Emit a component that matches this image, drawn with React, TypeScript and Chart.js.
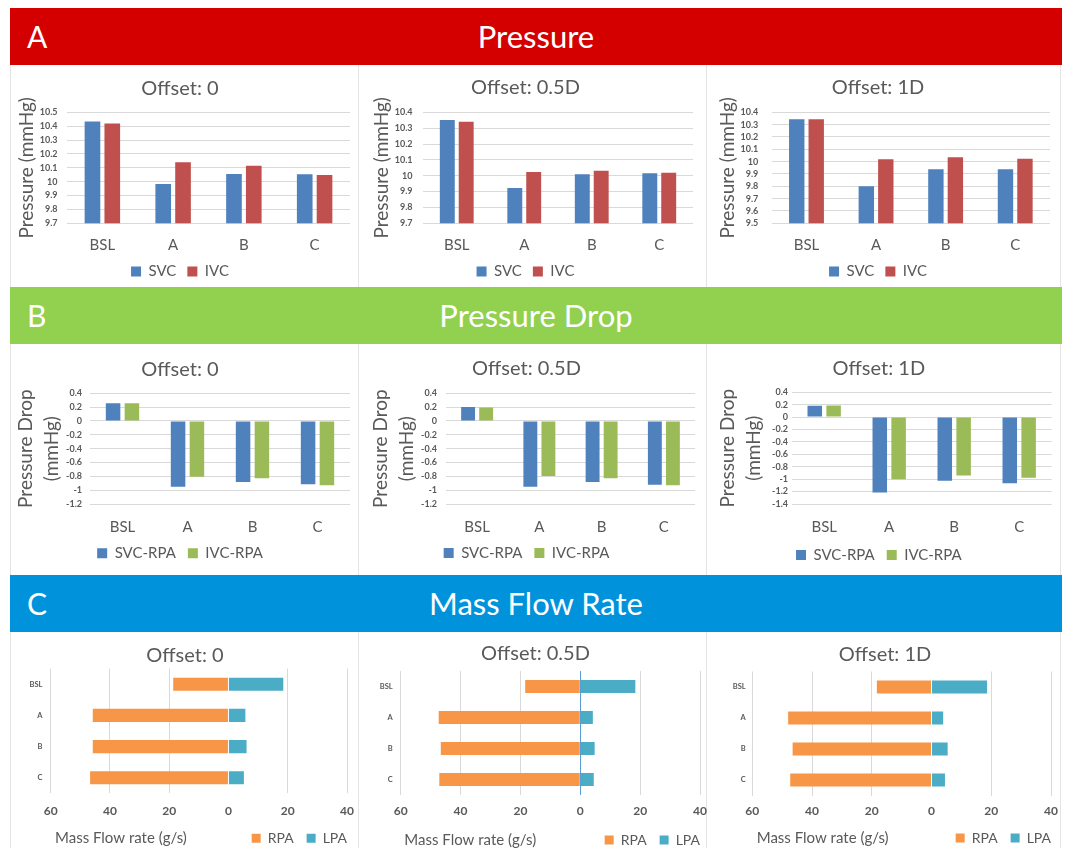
import React, { useEffect, useRef } from "react";
import { Chart, registerables } from "chart.js";

Chart.register(...registerables);

const FONT = "Lato, 'Open Sans', 'DejaVu Sans', sans-serif";
const TEXT = "#595959";
const GRID = "#d9d9d9";

// ---------- data ----------
const categories = ["BSL", "A", "B", "C"];
const offsetLabels = ["Offset: 0", "Offset: 0.5D", "Offset: 1D"];

// A: Pressure (mmHg)
const svcPressure0 = [10.433, 9.983, 10.055, 10.053];
const ivcPressure0 = [10.42, 10.14, 10.115, 10.048];
const svcPressure05 = [10.352, 9.923, 10.009, 10.016];
const ivcPressure05 = [10.341, 10.024, 10.032, 10.018];
const svcPressure1 = [10.343, 9.8, 9.938, 9.938];
const ivcPressure1 = [10.343, 10.019, 10.035, 10.024];
const pressureAxisMin = [9.7, 9.7, 9.5];
const pressureAxisMax = [10.5, 10.4, 10.4];
const pressureAxisStep = 0.1;

// B: Pressure drop (mmHg)
const svcRpaDrop0 = [0.255, -0.949, -0.882, -0.916];
const ivcRpaDrop0 = [0.255, -0.805, -0.829, -0.93];
const svcRpaDrop05 = [0.202, -0.949, -0.882, -0.92];
const ivcRpaDrop05 = [0.193, -0.795, -0.829, -0.93];
const svcRpaDrop1 = [0.183, -1.215, -1.027, -1.065];
const ivcRpaDrop1 = [0.188, -1.0, -0.941, -0.978];
const dropAxisMin = [-1.2, -1.2, -1.4];
const dropAxisMax = [0.4, 0.4, 0.4];
const dropAxisStep = 0.2;

// C: Mass flow rate (g/s) — RPA plotted to the left
const rpaFlow0 = [18.65, 45.8, 45.8, 46.7];
const lpaFlow0 = [18.5, 5.7, 6.1, 5.2];
const rpaFlow05 = [18.4, 47.3, 46.6, 47.1];
const lpaFlow05 = [18.4, 4.2, 4.8, 4.5];
const rpaFlow1 = [18.3, 48.0, 46.5, 47.3];
const lpaFlow1 = [18.6, 3.9, 5.4, 4.5];
const flowAxisMin = -60;
const flowAxisMax = 40;
const flowAxisStep = 20;

// ---------- colours ----------
const C_SVC = "#4f81bd";
const C_IVC = "#c0504d";
const C_IVCRPA = "#9bbb59";
const C_RPA = "#f79646";
const C_LPA = "#4bacc6";

const fmt = (v: number) => String(Number(Number(v).toFixed(2)));

type VSpec = {
  left: number; top: number; width: number;
  plotLeft: number; plotRight: number; plotTop: number; plotBottom: number;
  titleY: number; yTitleX: number; yTickRight: number; xLabelY: number; legendY: number;
  legendPad: number; yTitleLH: number;
  title: string; yTitle: string | string[];
  series: { label: string; data: number[]; color: string }[];
  yMin: number; yMax: number; yStep: number;
  catPct: number; barPct: number;
};

function verticalConfig(s: VSpec) {
  const TITLE_LH = 24;
  const LEG_ITEM = 15;
  const titlePadTop = s.titleY - s.top - TITLE_LH / 2;
  const titlePadBottom = s.plotTop - s.top - titlePadTop - TITLE_LH;
  const legTop = s.legendY - s.top - s.legendPad - LEG_ITEM / 2;
  const legH = LEG_ITEM + s.legendPad + 10;
  const height = Math.ceil(legTop + legH);
  const padBottom = height - (legTop + legH);
  const xScaleH = legTop - (s.plotBottom - s.top);
  const xTickPad = s.xLabelY - s.plotBottom - 7.5;
  const yW = s.plotLeft - s.left;
  const yTickPad = s.plotLeft - s.yTickRight;
  const yTitlePad = s.yTitleX - s.left - (19 * s.yTitleLH) / 2;
  const padRight = s.left + s.width - s.plotRight;
  const config: any = {
    type: "bar",
    data: {
      labels: categories,
      datasets: s.series.map((d) => ({
        label: d.label,
        data: d.data,
        backgroundColor: d.color,
        borderWidth: 0,
        categoryPercentage: s.catPct,
        barPercentage: s.barPct,
      })),
    },
    options: {
      responsive: false,
      animation: false,
      layout: { padding: { left: 0, top: 0, right: padRight, bottom: padBottom } },
      plugins: {
        tooltip: { enabled: false },
        title: {
          display: true,
          text: s.title,
          color: TEXT,
          font: { family: FONT, size: 20, weight: "normal", lineHeight: 1.2 },
          padding: { top: titlePadTop, bottom: titlePadBottom },
        },
        legend: {
          position: "bottom",
          labels: {
            color: TEXT,
            font: { family: FONT, size: LEG_ITEM },
            boxWidth: 10,
            boxHeight: 10,
            padding: s.legendPad,
          },
        },
      },
      scales: {
        x: {
          grid: { display: false, drawTicks: false },
          border: { display: false },
          ticks: { color: TEXT, font: { family: FONT, size: 15, lineHeight: 1 }, padding: xTickPad },
          afterFit: (sc: any) => { sc.height = xScaleH; },
        },
        y: {
          min: s.yMin,
          max: s.yMax,
          grid: { color: GRID, drawTicks: false },
          border: { display: false },
          ticks: {
            stepSize: s.yStep,
            autoSkip: false,
            color: TEXT,
            font: { family: FONT, size: 9, weight: "bold" },
            padding: yTickPad,
            callback: (v: any) => fmt(v),
          },
          title: {
            display: true,
            text: s.yTitle,
            color: TEXT,
            font: { family: FONT, size: 19, lineHeight: s.yTitleLH },
            padding: { top: yTitlePad, bottom: 0 },
          },
          afterFit: (sc: any) => { sc.width = yW; },
        },
      },
    },
  };
  return { config, left: s.left, top: s.top, width: s.width, height };
}

const axisNotePlugin = {
  id: "axisNote",
  afterDraw(chart: any, _args: any, opts: any) {
    if (!opts || !opts.text) return;
    const ctx = chart.ctx;
    ctx.save();
    ctx.font = `${opts.size}px ${FONT}`;
    ctx.fillStyle = TEXT;
    ctx.textAlign = "left";
    ctx.textBaseline = "middle";
    ctx.fillText(opts.text, opts.x, opts.y);
    ctx.restore();
  },
};

type HSpec = {
  left: number; top: number;
  plotLeft: number; plotRight: number; plotTop: number; plotBottom: number;
  titleY: number; yLabelRight: number; xLabelY: number; legendY: number; legendPad: number;
  noteX: number; zeroColor: string;
  title: string; rpa: number[]; lpa: number[];
};

function flowConfig(s: HSpec) {
  const TITLE_LH = 24;
  const LEG_ITEM = 14;
  const RIGHT_RESERVE = 22;
  const titlePadTop = s.titleY - s.top - TITLE_LH / 2;
  const titlePadBottom = s.plotTop - s.top - titlePadTop - TITLE_LH;
  const legTop = s.legendY - s.top - s.legendPad - LEG_ITEM / 2;
  const legH = LEG_ITEM + s.legendPad + 10;
  const height = Math.ceil(legTop + legH);
  const padBottom = height - (legTop + legH);
  const xScaleH = legTop - (s.plotBottom - s.top);
  const xTickPad = s.xLabelY - s.plotBottom - 6;
  const yW = s.plotLeft - s.left;
  const yTickPad = s.plotLeft - s.yLabelRight;
  const width = s.plotRight + RIGHT_RESERVE - s.left;
  const config: any = {
    type: "bar",
    plugins: [axisNotePlugin],
    data: {
      labels: categories,
      datasets: [
        { label: "RPA", data: s.rpa.map((v) => -v), backgroundColor: C_RPA, borderWidth: 0, yAxisID: "y", xAxisID: "x", categoryPercentage: 1, barPercentage: 0.42 },
        { label: "LPA", data: s.lpa, backgroundColor: C_LPA, borderWidth: 0, yAxisID: "y", xAxisID: "x", categoryPercentage: 1, barPercentage: 0.42 },
      ],
    },
    options: {
      indexAxis: "y",
      responsive: false,
      animation: false,
      layout: { padding: { left: 0, top: 0, right: RIGHT_RESERVE - s.legendPad, bottom: padBottom } },
      plugins: {
        tooltip: { enabled: false },
        axisNote: { text: "Mass Flow rate (g/s)", x: s.noteX - s.left, y: s.legendY - s.top, size: 15 },
        title: {
          display: true,
          text: s.title,
          color: TEXT,
          font: { family: FONT, size: 20, weight: "normal", lineHeight: 1.2 },
          padding: { top: titlePadTop, bottom: titlePadBottom },
        },
        legend: {
          position: "bottom",
          align: "end",
          labels: {
            color: TEXT,
            font: { family: FONT, size: LEG_ITEM },
            boxWidth: 9,
            boxHeight: 9,
            padding: s.legendPad,
          },
        },
      },
      scales: {
        x: {
          stacked: true,
          min: flowAxisMin,
          max: flowAxisMax,
          grid: {
            drawTicks: false,
            color: (c: any) => (c.tick && c.tick.value === 0 ? s.zeroColor : GRID),
          },
          border: { display: false },
          ticks: {
            stepSize: flowAxisStep,
            autoSkip: false,
            color: TEXT,
            font: { family: FONT, size: 12, weight: "bold", lineHeight: 1 },
            padding: xTickPad,
            callback: (v: any) => String(Math.abs(Number(v))),
          },
          afterFit: (sc: any) => { sc.height = xScaleH; },
        },
        y: {
          stacked: true,
          grid: { display: false, drawTicks: false },
          border: { display: false },
          ticks: {
            autoSkip: false,
            color: TEXT,
            font: { family: FONT, size: 7.5, weight: "bold" },
            padding: yTickPad,
          },
          afterFit: (sc: any) => { sc.width = yW; },
        },
        y2: {
          type: "linear",
          position: "right",
          display: true,
          grid: { display: false, drawTicks: false },
          border: { display: false },
          ticks: { display: false },
          afterFit: (sc: any) => { sc.width = s.legendPad; },
        },
      },
    },
  };
  return { config, left: s.left, top: s.top, width: Math.round(width), height };
}

// ---------- chart layouts ----------
const aCommon = { top: 65, plotTop: 112.3, plotBottom: 223.3, xLabelY: 245, legendY: 271.5, legendPad: 11, yTitleLH: 1.2, yTitle: "Pressure (mmHg)", yStep: pressureAxisStep, catPct: 0.56, barPct: 0.79 };
const bCommon = { top: 344, plotTop: 393.3, plotBottom: 504, xLabelY: 526.7, legendPad: 12, yTitleLH: 1.37, yTitle: ["Pressure Drop", "(mmHg)"], yStep: dropAxisStep, catPct: 0.58, barPct: 0.77 };

const pressureSeries = (svc: number[], ivc: number[]) => [
  { label: "SVC", data: svc, color: C_SVC },
  { label: "IVC", data: ivc, color: C_IVC },
];
const dropSeries = (svc: number[], ivc: number[]) => [
  { label: "SVC-RPA", data: svc, color: C_SVC },
  { label: "IVC-RPA", data: ivc, color: C_IVCRPA },
];

const charts = [
  verticalConfig({ ...aCommon, left: 10, width: 348, plotLeft: 67, plotRight: 350, titleY: 88.5, yTitleX: 26.5, yTickRight: 57.5, title: offsetLabels[0], series: pressureSeries(svcPressure0, ivcPressure0), yMin: pressureAxisMin[0], yMax: pressureAxisMax[0] } as VSpec),
  verticalConfig({ ...aCommon, left: 358, width: 348, plotLeft: 423, plotRight: 693, titleY: 88, yTitleX: 381.5, yTickRight: 412.5, title: offsetLabels[1], series: pressureSeries(svcPressure05, ivcPressure05), yMin: pressureAxisMin[1], yMax: pressureAxisMax[1] } as VSpec),
  verticalConfig({ ...aCommon, left: 706, width: 356, plotLeft: 771.7, plotRight: 1050, titleY: 88, yTitleX: 728.3, yTickRight: 758.3, title: offsetLabels[2], series: pressureSeries(svcPressure1, ivcPressure1), yMin: pressureAxisMin[2], yMax: pressureAxisMax[2] } as VSpec),
  verticalConfig({ ...bCommon, left: 10, width: 348, plotLeft: 90, plotRight: 350, titleY: 370, yTitleX: 26, yTickRight: 82, legendY: 553.3, title: offsetLabels[0], series: dropSeries(svcRpaDrop0, ivcRpaDrop0), yMin: dropAxisMin[0], yMax: dropAxisMax[0] } as VSpec),
  verticalConfig({ ...bCommon, left: 358, width: 348, plotLeft: 446, plotRight: 695, titleY: 368.5, yTitleX: 380.8, yTickRight: 437, legendY: 553, title: offsetLabels[1], series: dropSeries(svcRpaDrop05, ivcRpaDrop05), yMin: dropAxisMin[1], yMax: dropAxisMax[1] } as VSpec),
  verticalConfig({ ...bCommon, left: 706, width: 356, plotLeft: 791.7, plotRight: 1051.7, plotTop: 392.3, titleY: 368.5, yTitleX: 728.3, yTickRight: 788, legendY: 555, title: offsetLabels[2], series: dropSeries(svcRpaDrop1, ivcRpaDrop1), yMin: dropAxisMin[2], yMax: dropAxisMax[2] } as VSpec),
  flowConfig({ left: 10, top: 632, plotLeft: 50.7, plotRight: 347.3, plotTop: 668.6, plotBottom: 793.4, titleY: 656, yLabelRight: 42.5, xLabelY: 811, legendY: 838.3, legendPad: 13, noteX: 55, zeroColor: "rgba(0,0,0,0)", title: offsetLabels[0], rpa: rpaFlow0, lpa: lpaFlow0 }),
  flowConfig({ left: 358, top: 632, plotLeft: 400.7, plotRight: 700, plotTop: 671, plotBottom: 795, titleY: 653.5, yLabelRight: 392.7, xLabelY: 811, legendY: 840, legendPad: 13, noteX: 404.3, zeroColor: "#5b9bd5", title: offsetLabels[1], rpa: rpaFlow05, lpa: lpaFlow05 }),
  flowConfig({ left: 706, top: 632, plotLeft: 752.3, plotRight: 1050.7, plotTop: 671.5, plotBottom: 795.5, titleY: 654.5, yLabelRight: 745.7, xLabelY: 811, legendY: 838, legendPad: 13, noteX: 756.7, zeroColor: "rgba(0,0,0,0)", title: offsetLabels[2], rpa: rpaFlow1, lpa: lpaFlow1 }),
];

function ChartCanvas({ spec }: { spec: any }) {
  const ref = useRef<HTMLCanvasElement | null>(null);
  useEffect(() => {
    if (!ref.current) return;
    const chart = new Chart(ref.current, spec.config);
    return () => chart.destroy();
  }, []);
  return (
    <canvas
      ref={ref}
      width={spec.width}
      height={spec.height}
      style={{ position: "absolute", left: spec.left, top: spec.top, width: spec.width, height: spec.height }}
    />
  );
}

const banners = [
  { letter: "A", title: "Pressure", top: 8, color: "#d40000" },
  { letter: "B", title: "Pressure Drop", top: 287, color: "#92d050" },
  { letter: "C", title: "Mass Flow Rate", top: 575, color: "#0093dc" },
];
const rowSpans = [[65, 287], [344, 575], [632, 848]];
const colSpans = [[10, 358], [358, 706], [706, 1062]];

export default function App() {
  return (
    <div style={{ position: "absolute", left: 0, top: 0, width: 1068, height: 848, overflow: "hidden", background: "#ffffff", fontFamily: FONT }}>
      {rowSpans.map(([t, b], ri) =>
        colSpans.map(([l, r], ci) => (
          <div
            key={`p${ri}-${ci}`}
            style={{ position: "absolute", left: l, top: t, width: r - l - 1, height: b - t, borderLeft: "1px solid #e4e4e4", borderRight: ci === 2 ? "1px solid #e4e4e4" : "none", boxSizing: "border-box" }}
          />
        ))
      )}
      {charts.map((c, i) => (
        <ChartCanvas key={i} spec={c} />
      ))}
      {banners.map((b) => (
        <div
          key={b.letter}
          style={{ position: "absolute", left: 10, top: b.top, width: 1052, height: 57, background: b.color, color: "#ffffff", display: "flex", alignItems: "center", justifyContent: "center" }}
        >
          <span style={{ position: "absolute", left: 17, top: 0, height: 57, lineHeight: "57px", fontSize: 30 }}>{b.letter}</span>
          <span style={{ fontSize: 31, lineHeight: "57px" }}>{b.title}</span>
        </div>
      ))}
    </div>
  );
}
